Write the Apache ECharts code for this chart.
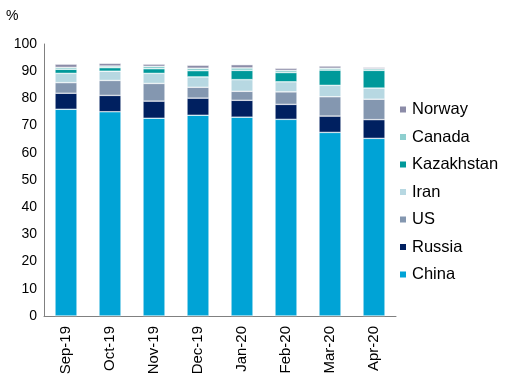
<!DOCTYPE html>
<html><head><meta charset="utf-8">
<script src="https://cdn.jsdelivr.net/npm/echarts@6/dist/echarts.min.js"></script>
<style>html,body{margin:0;padding:0;background:#fff}#c{width:514px;height:383px}</style>
</head><body><div id="c"></div>
<script>
const categories = ['Sep-19','Oct-19','Nov-19','Dec-19','Jan-20','Feb-20','Mar-20','Apr-20'];
const china      = [76.0, 75.1, 72.7, 73.8, 73.1, 72.3, 67.5, 65.3];
const russia     = [5.9, 6.0, 6.3, 6.3, 6.2, 5.5, 6.0, 6.9];
const us         = [3.9, 5.5, 6.5, 4.0, 3.3, 4.6, 7.1, 7.5];
const iran       = [3.4, 3.4, 3.7, 3.8, 4.3, 3.7, 4.2, 4.1];
const kazakhstan = [1.5, 1.3, 1.7, 2.3, 3.4, 3.4, 5.6, 6.5];
const canada     = [0.7, 0.6, 0.9, 0.9, 0.9, 0.8, 0.7, 0.6];
const norway     = [1.2, 1.0, 0.8, 1.1, 1.2, 0.8, 0.8, 0.5];
const yTicks = {min: 0, max: 100, interval: 10};

const seriesDefs = [
  ['China', china, '#00A3D6'],
  ['Russia', russia, '#002060'],
  ['US', us, '#8497B0'],
  ['Iran', iran, '#B7D8E2'],
  ['Kazakhstan', kazakhstan, '#00999A'],
  ['Canada', canada, '#8ECFCF'],
  ['Norway', norway, '#8C8CA8']
];
const font = 'Liberation Sans, Arial, sans-serif';
const chart = echarts.init(document.getElementById('c'), null, {renderer: 'canvas'});
chart.setOption({
  animation: false,
  title: {text: '%', left: 1, top: 4, textStyle: {fontSize: 14, fontWeight: 'normal', color: '#000', fontFamily: font}},
  grid: {left: 44, right: 118, top: 44, bottom: 67, containLabel: false},
  legend: {
    orient: 'vertical', left: 393, top: 96, itemWidth: 8, itemHeight: 8, itemGap: 10.5,
    icon: 'rect',
    data: ['Norway','Canada','Kazakhstan','Iran','US','Russia','China'],
    textStyle: {fontSize: 16.5, color: '#000', fontFamily: font, lineHeight: 16, height: 16}
  },
  xAxis: {
    type: 'category', data: categories,
    axisLine: {lineStyle: {color: '#808080', width: 1}},
    axisTick: {show: false},
    axisLabel: {rotate: 90, fontSize: 15, color: '#000', fontFamily: font, margin: 10, interval: 0}
  },
  yAxis: {
    type: 'value', min: yTicks.min, max: yTicks.max, interval: yTicks.interval,
    axisLine: {show: true, lineStyle: {color: '#808080', width: 1}},
    axisTick: {show: false},
    splitLine: {show: false},
    axisLabel: {fontSize: 14, color: '#000', fontFamily: font, margin: 7}
  },
  series: seriesDefs.map(([name, data, color]) => ({
    name, type: 'bar', stack: 'total', data, barWidth: '50%',
    itemStyle: {color, borderColor: '#fff', borderWidth: 0.5}
  }))
});
</script></body></html>
